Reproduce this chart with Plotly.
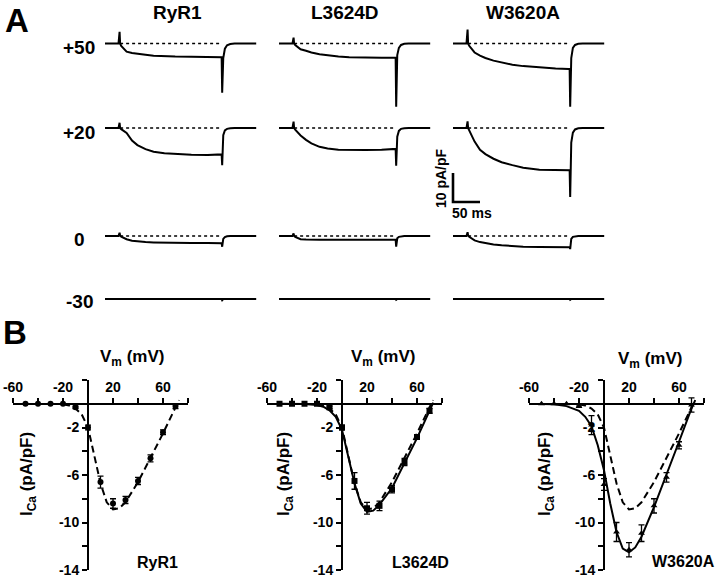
import plotly.graph_objects as go

W, H = 720, 581
FONT = "Liberation Sans, Arial, sans-serif"

# ---------------- panel A: current traces (pA/pF) vs time (ms)
t_ms = [0, 25, 27, 28, 30, 35, 40, 50, 60, 75, 90, 110, 130, 160, 190, 214, 216, 217, 219, 222, 226, 232, 240, 280]

ryr1_p50 = [0, 0, 4.0, 0, -0.8, -2.0, -2.8, -3.3, -3.6, -3.9, -4.2, -4.4, -4.5, -4.6, -4.7, -4.7, -4.7, -17.0, -5.0, -1.8, -0.6, -0.2, 0, 0]
ryr1_p20 = [0, 0, 1.8, 0, -0.4, -1.0, -1.7, -4.3, -5.9, -7.3, -8.2, -8.7, -9.0, -9.2, -9.3, -9.1, -9.1, -12.8, -2.5, -0.8, -0.3, -0.1, 0, 0]
ryr1_0 = [0, 0, 1.1, 0.2, -0.2, -0.6, -1.1, -1.6, -1.9, -2.1, -2.2, -2.3, -2.3, -2.4, -2.4, -2.5, -2.5, -3.7, -1.0, -0.4, -0.1, 0, 0, 0]
ryr1_m30 = [0, 0, 0.2, 0, 0, 0, 0, 0, 0, 0, 0, 0, 0, 0, 0, 0, 0, -0.4, 0, 0, 0, 0, 0, 0]

l3624d_p50 = [0, 0, 2.0, 0, -0.5, -1.3, -2.0, -2.5, -3.1, -3.7, -4.1, -4.5, -4.7, -4.9, -4.9, -4.9, -4.9, -21.8, -4.0, -1.5, -0.5, -0.1, 0, 0]
l3624d_p20 = [0, 0, 2.2, 0, -0.6, -1.6, -2.6, -4.1, -5.3, -6.5, -7.1, -7.5, -7.6, -7.6, -7.5, -7.2, -7.2, -13.0, -3.0, -1.0, -0.3, -0.1, 0, 0]
l3624d_0 = [0, 0, 0.9, 0.1, -0.3, -0.7, -1.1, -1.2, -1.3, -1.3, -1.3, -1.3, -1.3, -1.3, -1.3, -1.3, -1.3, -3.7, -0.8, -0.3, -0.1, 0, 0, 0]
l3624d_m30 = [0, 0, 0.2, 0, 0, 0, 0, 0, 0, 0, 0, 0, 0, 0, 0, 0, 0, -0.3, 0, 0, 0, 0, 0, 0]

w3620a_p50 = [0, 0, 4.8, 0, -0.8, -2.0, -3.1, -4.2, -5.0, -5.9, -6.6, -7.3, -7.8, -8.3, -8.6, -8.8, -8.8, -21.8, -5.0, -1.5, -0.5, -0.1, 0, 0]
w3620a_p20 = [0, 0, 2.3, 0, -0.8, -2.8, -4.7, -7.5, -9.0, -10.6, -11.8, -12.8, -13.7, -14.4, -14.6, -14.6, -14.6, -23.8, -5.0, -1.6, -0.5, -0.1, 0, 0]
w3620a_0 = [0, 0, 1.3, 0.2, -0.3, -0.9, -1.5, -2.1, -2.5, -2.9, -3.2, -3.5, -3.7, -3.8, -3.9, -3.9, -3.9, -4.5, -1.0, -0.3, -0.1, 0, 0, 0]
w3620a_m30 = [0, 0, 0.2, 0, 0, 0, 0, 0, 0, 0, 0, 0, 0, 0, 0, 0, 0, -0.3, 0, 0, 0, 0, 0, 0]

pulse_ms = [28, 216]          # dotted zero-current reference during the pulse
constructs = ["RyR1", "L3624D", "W3620A"]
test_potentials = ["+50", "+20", "0", "-30"]
traces_a = [
    [ryr1_p50, ryr1_p20, ryr1_0, ryr1_m30],
    [l3624d_p50, l3624d_p20, l3624d_0, l3624d_m30],
    [w3620a_p50, w3620a_p20, w3620a_0, w3620a_m30],
]
scale_pa = 10
scale_ms = 50

# ---------------- panel B: I-V relationships
v_pts = [-50, -40, -30, -20, -10, 0, 10, 20, 30, 40, 50, 60, 70]
ryr1_i = [0, 0, 0, 0, -0.3, -2.0, -6.6, -8.4, -8.1, -6.5, -4.6, -2.4, -0.2]
ryr1_err = [0, 0, 0, 0, 0.1, 0.2, 0.5, 0.4, 0.3, 0.3, 0.3, 0.2, 0.2]
l3624d_i = [0, 0, 0, 0, -0.3, -2.0, -6.5, -8.8, -8.6, -7.2, -4.9, -2.8, -0.6]
l3624d_err = [0, 0, 0, 0, 0.1, 0.2, 0.7, 0.5, 0.4, 0.3, 0.3, 0.2, 0.2]
w3620a_i = [0, 0, 0, -0.2, -1.8, -6.8, -10.8, -12.3, -10.9, -8.6, -6.2, -3.5, -0.1]
w3620a_err = [0, 0, 0, 0.1, 0.8, 0.5, 0.8, 0.6, 0.7, 0.6, 0.4, 0.3, 0.6]

v_fit = [-50, -40, -30, -20, -15, -10, -5, 0, 5, 10, 15, 20, 25, 30, 40, 50, 60, 70, 73]
ryr1_fit = [None, None, None, -0.05, -0.15, -0.4, -0.9, -2.0, -4.3, -6.7, -8.3, -8.9, -8.8, -8.3, -6.6, -4.6, -2.5, -0.3, 0.3]
l3624d_fit = [0, 0, -0.02, -0.1, -0.25, -0.55, -1.1, -2.2, -4.4, -6.7, -8.4, -9.1, -9.0, -8.5, -7.1, -5.0, -2.9, -0.6, 0.1]
w3620a_fit = [-0.02, -0.05, -0.2, -0.6, -1.1, -1.9, -3.5, -5.6, -8.4, -10.8, -12.2, -12.5, -12.1, -11.2, -8.7, -6.0, -3.2, -0.4, 0.3]

iv_sets = [
    ("RyR1", ryr1_i, ryr1_err, "circle", None),
    ("L3624D", l3624d_i, l3624d_err, "square", l3624d_fit),
    ("W3620A", w3620a_i, w3620a_err, "triangle-up", w3620a_fit),
]
x_ticks = [-60, -40, -20, 0, 20, 40, 60, 80]
x_ticktext = ["-60", "", "-20", "", "20", "", "60", ""]
y_ticks = [2, 0, -2, -4, -6, -8, -10, -12, -14]
y_ticktext = ["", "", "-2", "", "-6", "", "-10", "", "-14"]


def fx(px):
    return px / W


def fy(py):
    return 1 - py / H


fig = go.Figure()
layout_axes = {}
ax = 0

# panel A geometry (pixels)
PX_MS, PX_PA = 0.54, 2.9
col_x0 = [105, 279, 453]
row_base = [43.5, 128, 236, 299]
T_RANGE = [-4, 282]
I_RANGE = [-27, 5]

for c, col in enumerate(traces_a):
    for r, vals in enumerate(col):
        ax += 1
        sx = "" if ax == 1 else str(ax)
        x0, b = col_x0[c], row_base[r]
        layout_axes["xaxis" + sx] = dict(
            domain=[fx(x0 + T_RANGE[0] * PX_MS), fx(x0 + T_RANGE[1] * PX_MS)],
            range=T_RANGE, visible=False, anchor="y" + sx, automargin=False)
        layout_axes["yaxis" + sx] = dict(
            domain=[fy(b - I_RANGE[0] * PX_PA), fy(b - I_RANGE[1] * PX_PA)],
            range=I_RANGE, visible=False, anchor="x" + sx, automargin=False)
        if r < 3:
            fig.add_trace(go.Scatter(
                x=pulse_ms, y=[0, 0], mode="lines",
                line=dict(color="black", width=1.7, dash="dot"),
                xaxis="x" + sx, yaxis="y" + sx, hoverinfo="skip"))
        fig.add_trace(go.Scatter(
            x=t_ms, y=vals, mode="lines",
            line=dict(color="black", width=2),
            xaxis="x" + sx, yaxis="y" + sx))
        if c == 2 and r == 1:
            # scale bar drawn in data units of this trace
            fig.add_trace(go.Scatter(
                x=[0, 0, scale_ms], y=[-25.5 + scale_pa, -25.5, -25.5], mode="lines",
                line=dict(color="black", width=2.6),
                xaxis="x" + sx, yaxis="y" + sx))

# panel B geometry (pixels)
yaxis_px = [88, 342, 604]
PX_MV = 1.25
B_TOP, B_BOT = 380, 570
zero_px = B_TOP + 2 * (B_BOT - B_TOP) / 16

for k, (name, iv, err, sym, fit) in enumerate(iv_sets):
    ax += 1
    sx = str(ax)
    xa = yaxis_px[k]
    layout_axes["xaxis" + sx] = dict(
        domain=[fx(xa - 60 * PX_MV), fx(xa + 80 * PX_MV)], range=[-60, 80],
        anchor="free", position=fy(zero_px), side="top", automargin=False,
        showline=True, linecolor="black", linewidth=2,
        ticks="outside", ticklen=5, tickwidth=2, tickcolor="black",
        tickvals=x_ticks, ticktext=x_ticktext,
        tickfont=dict(family=FONT, size=14, color="black", weight="bold"),
        showgrid=False, zeroline=False)
    layout_axes["yaxis" + sx] = dict(
        domain=[fy(B_BOT), fy(B_TOP)], range=[-14, 2],
        anchor="free", position=fx(xa), automargin=False,
        showline=True, linecolor="black", linewidth=2,
        ticks="outside", ticklen=5, tickwidth=2, tickcolor="black",
        tickvals=y_ticks, ticktext=y_ticktext,
        tickfont=dict(family=FONT, size=14, color="black", weight="bold"),
        showgrid=False, zeroline=False)
    # RyR1 fit shown dashed in every panel
    fig.add_trace(go.Scatter(
        x=v_fit, y=ryr1_fit, mode="lines",
        line=dict(color="black", width=2, dash="7px,4px"),
        xaxis="x" + sx, yaxis="y" + sx))
    if fit is not None:
        fig.add_trace(go.Scatter(
            x=v_fit, y=fit, mode="lines", line=dict(color="black", width=2),
            xaxis="x" + sx, yaxis="y" + sx))
    fig.add_trace(go.Scatter(
        x=v_pts, y=iv, mode="markers",
        marker=dict(symbol=sym, size=6, color="black"),
        error_y=dict(type="data", array=err, visible=True, color="black",
                     thickness=1.3, width=3),
        xaxis="x" + sx, yaxis="y" + sx))

annotations = []


def label(text, x, y, size, **kw):
    kw.setdefault("xanchor", "center")
    kw.setdefault("yanchor", "middle")
    annotations.append(dict(
        text=text, x=fx(x), y=fy(y), xref="paper", yref="paper",
        showarrow=False, font=dict(family=FONT, size=size, color="black"), **kw))


label("<b>A</b>", 17, 20, 33)
label("<b>B</b>", 15, 332, 33)
for name, cx in zip(constructs, [177, 345, 523]):
    label("<b>%s</b>" % name, cx, 13, 19)
for name, cy in zip(test_potentials, [48, 133, 240, 301]):
    label("<b>%s</b>" % name, 79, cy, 19)
label("<b>10 pA/pF</b>", 441, 178, 14, textangle=-90)
label("<b>50 ms</b>", 472, 213, 14)

for cx, cy in zip([132, 383, 650], [358, 358, 360]):
    label("<b>V<sub>m</sub> (mV)</b>", cx, cy, 17)
for cx in [28, 285, 546]:
    label("<b>I<sub>Ca</sub> (pA/pF)</b>", cx, 474, 17, textangle=-90)
label("<b>RyR1</b>", 157, 562, 16)
label("<b>L3624D</b>", 420, 562, 16)
label("<b>W3620A</b>", 717, 561, 16, xanchor="right")

fig.update_layout(
    width=W, height=H,
    margin=dict(l=0, r=0, t=0, b=0, pad=0, autoexpand=False),
    paper_bgcolor="white", plot_bgcolor="white",
    showlegend=False,
    annotations=annotations,
    **layout_axes)

fig.write_html("out.html", config={"displayModeBar": False},
               post_script="document.body.style.margin = '0px';")
